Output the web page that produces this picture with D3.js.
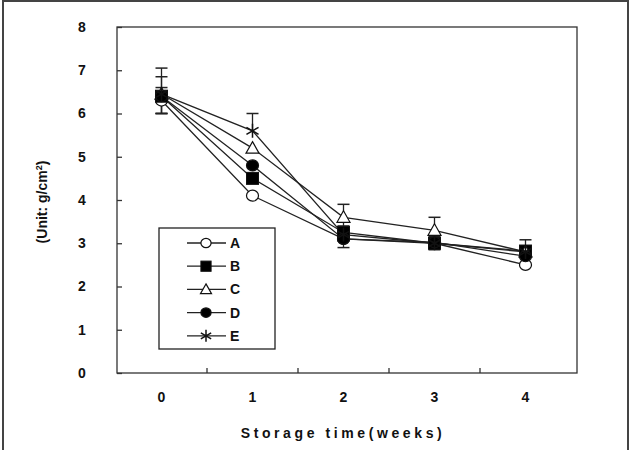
<!DOCTYPE html>
<html><head><meta charset="utf-8">
<script src="https://cdn.jsdelivr.net/npm/d3@7"></script>
<style>body{margin:0;background:#fff}svg{display:block}</style>
</head><body><svg id="c" width="634" height="450"></svg>
<script>
const weeks = ["0","1","2","3","4"];
const seriesNames = ["A","B","C","D","E"];
const valuesA = [6.30, 4.10, 3.10, 3.00, 2.50];
const valuesB = [6.40, 4.50, 3.25, 3.00, 2.82];
const valuesC = [6.45, 5.20, 3.60, 3.30, 2.80];
const valuesD = [6.40, 4.80, 3.10, 3.02, 2.70];
const valuesE = [6.45, 5.60, 3.20, 3.00, 2.80];
// error bar extents (upper / lower) per series
const errUpA = [0.30, 0, 0, 0, 0],   errLoA = [0.30, 0, 0, 0, 0];
const errUpB = [0.45, 0, 0, 0, 0],   errLoB = [0.40, 0, 0.20, 0.15, 0];
const errUpC = [0.60, 0, 0.30, 0.30, 0.28], errLoC = [0.45, 0, 0.20, 0.15, 0];
const errUpD = [0, 0, 0, 0, 0],      errLoD = [0, 0, 0.20, 0, 0];
const errUpE = [0, 0.40, 0, 0, 0],   errLoE = [0, 0, 0, 0, 0];
const yTicks = [0,1,2,3,4,5,6,7,8];

const series = [
  {name:"A", v:valuesA, up:errUpA, lo:errLoA, shape:"circle", fill:"#fff"},
  {name:"B", v:valuesB, up:errUpB, lo:errLoB, shape:"square", fill:"#000"},
  {name:"C", v:valuesC, up:errUpC, lo:errLoC, shape:"triangle", fill:"#fff"},
  {name:"D", v:valuesD, up:errUpD, lo:errLoD, shape:"circle", fill:"#000"},
  {name:"E", v:valuesE, up:errUpE, lo:errLoE, shape:"star", fill:"none"}
];

const svg = d3.select("#c");
const L = 117, R = 577, T = 27, B = 373;
const x = d3.scaleBand().domain(weeks).range([116, 571]);
const xc = d => x(d) + x.bandwidth()/2;
const y = d3.scaleLinear().domain([0,8]).range([B, T]);
const font = "'Liberation Sans', Arial, sans-serif";

// outer frame
svg.append("rect").attr("x",3).attr("y",1).attr("width",625).attr("height",460)
  .attr("fill","none").attr("stroke","#444").attr("stroke-width",2);

// plot frame
svg.append("rect").attr("x",L).attr("y",T).attr("width",R-L).attr("height",B-T)
  .attr("fill","none").attr("stroke","#333").attr("stroke-width",1.3);

// y axis
const ya = svg.append("g").attr("transform",`translate(${L},0)`)
  .call(d3.axisRight(y).tickValues(yTicks).tickSize(5).tickFormat(d3.format("d")));
ya.select(".domain").remove();
ya.selectAll("line").attr("stroke","#333").attr("stroke-width",1.3);
ya.selectAll("text").attr("x",-35).attr("text-anchor","middle")
  .attr("font-family",font).attr("font-weight","bold").attr("font-size",14).attr("fill","#111");

// x axis: ticks between categories
const xa = svg.append("g").attr("transform",`translate(0,${B})`)
  .call(d3.axisBottom(x).tickSize(0).tickPadding(19));
xa.select(".domain").remove();
xa.selectAll("text").attr("font-family",font).attr("font-weight","bold").attr("font-size",14).attr("fill","#111");
svg.append("g").selectAll("line").data(weeks.slice(1)).join("line")
  .attr("x1",d=>x(d)).attr("x2",d=>x(d)).attr("y1",B).attr("y2",B-5)
  .attr("stroke","#333").attr("stroke-width",1.3);

// titles
svg.append("text").attr("x",343).attr("y",438).attr("text-anchor","middle")
  .attr("font-family",font).attr("font-weight","bold").attr("font-size",14)
  .attr("letter-spacing","3.6px").attr("fill","#111").text("Storage time(weeks)");
const yt = svg.append("text").attr("transform","translate(47,202) rotate(-90)")
  .attr("text-anchor","middle").attr("font-family",font).attr("font-weight","bold")
  .attr("font-size",14).attr("fill","#111");
yt.append("tspan").text("(Unit: g/cm");
yt.append("tspan").attr("font-size",9).attr("dy",-5).text("2");
yt.append("tspan").attr("dy",5).text(")");

// lines
const line = d3.line().x((d,i)=>xc(weeks[i])).y(d=>y(d));
series.forEach(s=>{
  svg.append("path").attr("d",line(s.v)).attr("fill","none")
    .attr("stroke","#222").attr("stroke-width",1.3);
});

// error bars
series.forEach(s=>{
  s.v.forEach((v,i)=>{
    const cx = xc(weeks[i]);
    [[s.up[i],1],[s.lo[i],-1]].forEach(([e,sg])=>{
      if(e>0){
        const ye = y(v+sg*e);
        svg.append("line").attr("x1",cx).attr("x2",cx).attr("y1",y(v)).attr("y2",ye)
          .attr("stroke","#222").attr("stroke-width",1.3);
        svg.append("line").attr("x1",cx-6).attr("x2",cx+6).attr("y1",ye).attr("y2",ye)
          .attr("stroke","#222").attr("stroke-width",1.5);
      }
    });
  });
});

function marker(g, shape, fill, cx, cy, k){
  k = k || 1;
  if(shape==="circle"){
    g.append("ellipse").attr("cx",cx).attr("cy",cy).attr("rx",6*k).attr("ry",5.5*k)
      .attr("fill",fill).attr("stroke","#111").attr("stroke-width",1.2);
  } else if(shape==="square"){
    g.append("rect").attr("x",cx-6*k).attr("y",cy-6*k).attr("width",12*k).attr("height",12*k)
      .attr("fill",fill).attr("stroke","#111").attr("stroke-width",1);
  } else if(shape==="triangle"){
    g.append("path").attr("d",`M${cx},${cy-6.5*k}L${cx+6.5*k},${cy+5*k}L${cx-6.5*k},${cy+5*k}Z`)
      .attr("fill",fill).attr("stroke","#111").attr("stroke-width",1.2);
  } else {
    const r=7*k;
    let d="";
    [0,60,120].forEach(a=>{
      const t=a*Math.PI/180+Math.PI/2;
      d+=`M${cx+r*Math.cos(t)},${cy+r*Math.sin(t)}L${cx-r*Math.cos(t)},${cy-r*Math.sin(t)}`;
    });
    g.append("path").attr("d",d).attr("stroke","#111").attr("stroke-width",1.5).attr("fill","none");
  }
}

series.forEach(s=>{
  const g = svg.append("g");
  s.v.forEach((v,i)=>marker(g, s.shape, s.fill, xc(weeks[i]), y(v)));
});

// legend
svg.append("rect").attr("x",159).attr("y",228).attr("width",116).attr("height",121)
  .attr("fill","#fff").attr("stroke","#222").attr("stroke-width",1.3);
series.forEach((s,i)=>{
  const ly = 243 + i*23.2;
  svg.append("line").attr("x1",187).attr("x2",226).attr("y1",ly).attr("y2",ly)
    .attr("stroke","#222").attr("stroke-width",1.3);
  marker(svg.append("g"), s.shape, s.fill, 206, ly, 0.85);
  svg.append("text").attr("x",230).attr("y",ly+5).attr("font-family",font)
    .attr("font-weight","bold").attr("font-size",14).attr("fill","#111").text(s.name);
});
</script></body></html>
